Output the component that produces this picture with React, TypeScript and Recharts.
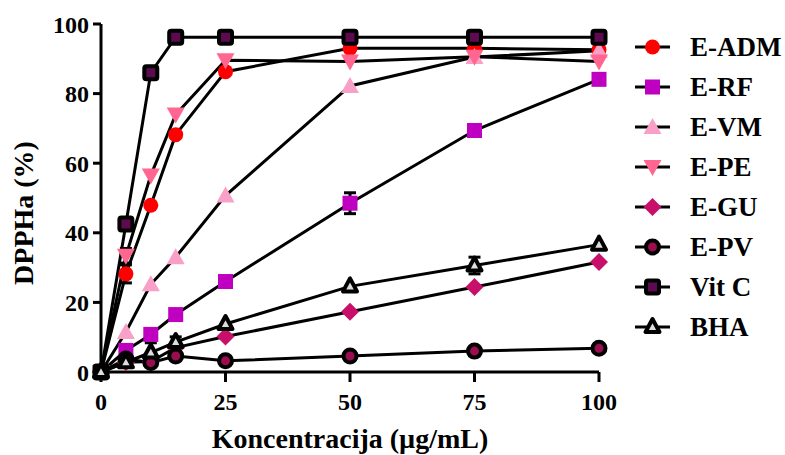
import React from 'react';
import { LineChart, Line, XAxis, YAxis, ErrorBar, Label } from 'recharts';

const concentrations = [0, 5, 10, 15, 25, 50, 75, 100];
const eADM = [0, 28.2, 47.9, 68.2, 86.3, 93.0, 93.0, 92.6];
const eRF = [0, 6.2, 10.8, 16.5, 26.0, 48.5, 69.4, 84.1];
const eVM = [0, 11.5, 25.2, 33.0, 50.7, 82.2, 90.5, 92.3];
const ePE = [0, 33.4, 56.5, 74.0, 89.6, 89.2, 90.6, 89.2];
const eGU = [0, 2.8, 3.0, 7.0, 10.2, 17.3, 24.4, 31.6];
const ePV = [0, 3.7, 2.7, 4.6, 3.2, 4.6, 6.0, 6.8];
const vitC = [0, 42.5, 86.0, 96.2, 96.2, 96.2, 96.2, 96.2];
const bha = [0, 2.8, 5.6, 8.6, 13.8, 24.6, 30.6, 36.6];

const eADMErr = [0, 2.6, 0, 0, 0, 0, 0, 0];
const ePEErr = [0, 2.1, 0, 0, 0, 0, 0, 0];
const eRFErr = [0, 0, 0, 0, 0, 3.0, 0, 0];
const bhaErr = [0, 0, 2.8, 1.5, 0, 0, 2.4, 0];

const xTicks = [0, 25, 50, 75, 100];
const yTicks = [0, 20, 40, 60, 80, 100];

const seriesNames = ['E-ADM', 'E-RF', 'E-VM', 'E-PE', 'E-GU', 'E-PV', 'Vit C', 'BHA'];
const seriesKeys = ['adm', 'rf', 'vm', 'pe', 'gu', 'pv', 'vitc', 'bha'];
const seriesValues = [eADM, eRF, eVM, ePE, eGU, ePV, vitC, bha];
const seriesColors = ['#FF0000', '#C000C0', '#F9A0C8', '#FF6690', '#C8106A', '#9B0D4E', '#5E0A50', '#DDDDDD'];
const seriesShapes = ['circle', 'square', 'triUp', 'triDown', 'diamond', 'ringCircle', 'ringSquare', 'ringTri'];
const errorKeys: Record<string, number[]> = { adm: eADMErr, pe: ePEErr, rf: eRFErr, bha: bhaErr };

const data = concentrations.map((x, i) => {
  const row: Record<string, number> = { x };
  seriesKeys.forEach((k, s) => {
    row[k] = seriesValues[s][i];
    if (errorKeys[k]) row[k + 'Err'] = errorKeys[k][i];
  });
  return row;
});

const FONT = "'Liberation Serif', 'DejaVu Serif', 'Noto Serif', 'Times New Roman', Times, serif";

function Marker({ shape, color, cx, cy }: { shape: string; color: string; cx: number; cy: number }) {
  if (cx == null || cy == null || isNaN(cx) || isNaN(cy)) return null;
  switch (shape) {
    case 'circle':
      return <circle cx={cx} cy={cy} r={7.5} fill={color} />;
    case 'square':
      return <rect x={cx - 7.5} y={cy - 7.5} width={15} height={15} fill={color} />;
    case 'triUp':
      return <polygon points={`${cx},${cy - 9} ${cx - 9},${cy + 7} ${cx + 9},${cy + 7}`} fill={color} />;
    case 'triDown':
      return <polygon points={`${cx},${cy + 9} ${cx - 9},${cy - 7} ${cx + 9},${cy - 7}`} fill={color} />;
    case 'diamond':
      return <polygon points={`${cx},${cy - 9} ${cx + 9},${cy} ${cx},${cy + 9} ${cx - 9},${cy}`} fill={color} />;
    case 'ringCircle':
      return <circle cx={cx} cy={cy} r={6.5} fill={color} stroke="#000" strokeWidth={4} />;
    case 'ringSquare':
      return <rect x={cx - 6.5} y={cy - 6.5} width={13} height={13} rx={2} fill={color} stroke="#000" strokeWidth={4} />;
    case 'ringTri':
      return (
        <polygon
          points={`${cx},${cy - 8} ${cx - 7},${cy + 5} ${cx + 7},${cy + 5}`}
          fill={color}
          stroke="#000"
          strokeWidth={4}
          strokeLinejoin="round"
        />
      );
    default:
      return null;
  }
}

function LegendOverlay() {
  return (
    <svg width={165} height={360} style={{ position: 'absolute', left: 620, top: 0 }}>
      {seriesNames.map((name, i) => {
        const cy = 47 + i * 40;
        return (
          <g key={name}>
            <line x1={15} x2={50} y1={cy} y2={cy} stroke="#000" strokeWidth={3} />
            <Marker shape={seriesShapes[i]} color={seriesColors[i]} cx={32.5} cy={cy} />
            <text
              x={70}
              y={cy}
              dominantBaseline="central"
              style={{ fontFamily: FONT, fontWeight: 'bold', fontSize: 27 }}
              fill="#000"
            >
              {name}
            </text>
          </g>
        );
      })}
    </svg>
  );
}

export default function App() {
  const tickStyle = { fontFamily: FONT, fontWeight: 'bold', fontSize: 24, fill: '#000' };
  return (
    <div style={{ position: 'absolute', left: 0, top: 0, width: 785, height: 455, background: '#fff', fontFamily: FONT }}>
      <LineChart
        width={785}
        height={455}
        data={data}
        margin={{ top: 24, right: 186, bottom: 0, left: 0 }}
        style={{ fontFamily: FONT }}
      >
        <XAxis
          type="number"
          dataKey="x"
          domain={[0, 100]}
          ticks={xTicks}
          height={83}
          stroke="#000"
          tickSize={10}
          tickMargin={11}
          tick={{ ...tickStyle, style: { fontFamily: FONT } }}
          tickLine={{ stroke: '#000', strokeWidth: 3 }}
          axisLine={{ stroke: '#000', strokeWidth: 3 }}
          interval={0}
        >
          <Label
            content={() => (
              <text
                x={350}
                y={448}
                textAnchor="middle"
                style={{ fontFamily: FONT, fontWeight: 'bold', fontSize: 28 }}
                fill="#000"
              >
                Koncentracija (µg/mL)
              </text>
            )}
          />
        </XAxis>
        <YAxis
          type="number"
          domain={[0, 100]}
          ticks={yTicks}
          width={101}
          stroke="#000"
          tickSize={8}
          tickMargin={4}
          tick={{ ...tickStyle, style: { fontFamily: FONT } }}
          tickLine={{ stroke: '#000', strokeWidth: 3 }}
          axisLine={{ stroke: '#000', strokeWidth: 3 }}
          interval={0}
        >
          <Label
            content={() => (
              <text
                transform="translate(33,213) rotate(-90)"
                textAnchor="middle"
                style={{ fontFamily: FONT, fontWeight: 'bold', fontSize: 28 }}
                fill="#000"
              >
                DPPHa (%)
              </text>
            )}
          />
        </YAxis>
        {seriesKeys.map((k, s) => (
          <Line
            key={k}
            type="linear"
            dataKey={k}
            name={seriesNames[s]}
            stroke="#000"
            strokeWidth={3}
            isAnimationActive={false}
            activeDot={false}
            dot={(p: any) => (
              <Marker
                key={`${k}-${p.index}`}
                shape={seriesShapes[s]}
                color={seriesColors[s]}
                cx={p.cx}
                cy={p.cy}
              />
            )}
          >
            {errorKeys[k] ? (
              <ErrorBar dataKey={k + 'Err'} width={6} strokeWidth={3} stroke="#000" direction="y" />
            ) : null}
          </Line>
        ))}
      </LineChart>
      <LegendOverlay />
    </div>
  );
}
